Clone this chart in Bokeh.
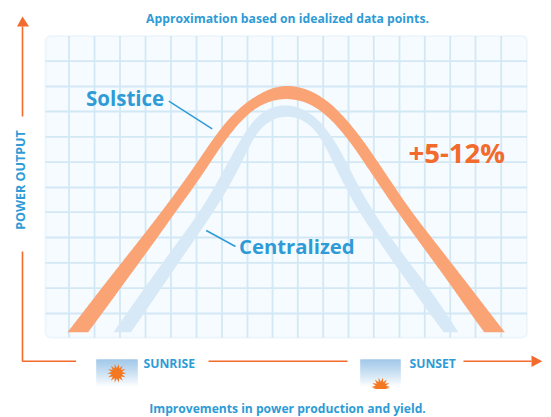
import numpy as np
from bokeh.plotting import figure
from bokeh.models import Range1d, BoxAnnotation
from bokeh.core.properties import value
from bokeh.embed import file_html
from bokeh.resources import INLINE

BLUE = "#2e9bd6"
ORANGE = "#f26a2c"
GRID = "#d3e8f5"

# Curves (x = image column, y = image row)
solstice_outer_x = [67, 81.6, 101, 121, 141, 162, 179, 197, 214, 235, 256, 270, 285, 300, 322.7, 339, 360, 377.5, 394.5, 410, 431, 450.7, 470.4, 489.8, 504.3]
solstice_outer_y = [331.7, 313, 287.7, 262.3, 237, 210, 187, 161.7, 136, 110, 94.5, 87, 83.5, 85.5, 96, 111, 136, 161.7, 187, 210, 237, 262.3, 287.7, 313, 331.7]
solstice_inner_x = [483.7, 470, 452.5, 434, 415.5, 396, 380.5, 363.5, 346, 321, 302, 285.7, 265, 250, 227, 210, 193, 176, 157, 138.5, 120, 101.5, 87.7]
solstice_inner_y = [331.7, 313, 287.7, 262.3, 237, 210, 187, 161.7, 136, 109, 99.5, 96.5, 101, 110, 136, 161.7, 187, 210, 237, 262.3, 287.7, 313, 331.7]
central_outer_x = [113, 126, 144, 162, 180.7, 200, 214, 227.5, 242, 251, 262, 273, 285, 297, 310, 320, 332, 346, 358.5, 372, 390, 409, 428.5, 446, 457.7]
central_outer_y = [331.7, 313, 287.7, 262.3, 237, 210, 187, 161.7, 136, 121.5, 110, 104.5, 103, 105, 111, 121.5, 136, 161.7, 187, 210, 237, 262.3, 287.7, 313, 331.7]
central_inner_x = [443.3, 429, 411.5, 393, 376, 357.5, 345, 332.5, 320, 309, 296, 285, 274, 262, 253.5, 241.5, 228, 214, 195.5, 178, 160.7, 143.4, 130.5]
central_inner_y = [331.7, 313, 287.7, 262.3, 237, 210, 187, 161.7, 136, 121.5, 115.5, 113.7, 116.5, 123.5, 136, 161.7, 187, 210, 237, 262.3, 287.7, 313, 331.7]

grid_x = [68.5, 94, 119.5, 145, 170.5, 196, 221.5, 247, 272, 297.3, 322.7, 348, 373.3, 399, 424.3, 449.7, 475, 500.7]
grid_y = [60.7, 86, 111, 136.3, 161.7, 187, 211.7, 237, 262.3, 287.7, 313]
panel = dict(left=45, right=526.5, top=35.5, bottom=337.3)


def smooth(xs, ys, win=41):
    """Draw a read-off edge as a soft curve: resample along its length, then average."""
    xs, ys = np.asarray(xs, float), np.asarray(ys, float)
    s = np.r_[0, np.cumsum(np.hypot(np.diff(xs), np.diff(ys)))]
    u = np.r_[np.arange(0, s[-1], 1.0), s[-1]]
    dx, dy = np.interp(u, s, xs), np.interp(u, s, ys)
    k = np.ones(win) / win
    h = win // 2
    px = np.r_[2 * dx[0] - dx[h:0:-1], dx, 2 * dx[-1] - dx[-2:-h - 2:-1]]
    py = np.r_[2 * dy[0] - dy[h:0:-1], dy, 2 * dy[-1] - dy[-2:-h - 2:-1]]
    return np.convolve(px, k, "valid"), np.convolve(py, k, "valid")


def band(ox, oy, ix, iy):
    ax, ay = smooth(ox, oy)
    bx, by = smooth(ix, iy)
    return np.r_[ax, bx], np.r_[ay, by]


p = figure(width=551, height=417, x_range=Range1d(0, 551), y_range=Range1d(417, 0),
           output_backend="svg", toolbar_location=None, min_border=0,
           outline_line_color=None, background_fill_color="white", border_fill_color="white")
p.xaxis.visible = False
p.yaxis.visible = False
p.xgrid.visible = False
p.ygrid.visible = False

box = BoxAnnotation(fill_color="#f5fbfe", fill_alpha=1, line_color=GRID, line_width=2,
                    border_radius=5, level="underlay", **panel)
p.add_layout(box)

p.segment(grid_x, panel["top"], grid_x, panel["bottom"], line_color=GRID, line_width=1.8)
p.segment(panel["left"], grid_y, panel["right"], grid_y, line_color=GRID, line_width=1.8)

cx, cy = band(central_outer_x, central_outer_y, central_inner_x, central_inner_y)
p.patch(cx, cy, fill_color="#d7e9f6", line_color=None)
ox, oy = band(solstice_outer_x, solstice_outer_y, solstice_inner_x, solstice_inner_y)
p.patch(ox, oy, fill_color="#faa475", line_color=None)

# pointer lines
p.line([168.3, 211.7], [100.7, 128.3], line_color=BLUE, line_width=1.5)
p.line([205.7, 235], [230, 246], line_color=BLUE, line_width=1.5)

# axes arrows
p.line([22, 22], [116, 26], line_color=ORANGE, line_width=1.6)
p.patch([16.5, 22, 28.5], [26, 16, 26], fill_color=ORANGE, line_color=None)
p.line([22, 22, 75.5], [251, 360.7, 360.7], line_color=ORANGE, line_width=1.6)
p.line([208, 347], [360.7, 360.7], line_color=ORANGE, line_width=1.6)
p.line([463, 531], [360.7, 360.7], line_color=ORANGE, line_width=1.6)
p.patch([531, 541.7, 531], [355, 360.7, 366.5], fill_color=ORANGE, line_color=None)

# gradient tiles
stops = np.arange(359, 387)
t = (stops - 359) / 27
cols = ["#%02x%02x%02x" % (int(150 + 105 * a), int(194 + 61 * a), int(232 + 23 * a)) for a in t ** 1.1]
for l, r in [(96, 137), (360, 400)]:
    p.quad(left=l, right=r, top=stops, bottom=stops + 1, fill_color=cols, line_color=cols, line_width=0.3)

# suns
def star(cx, cy, ro, ri, n):
    a = np.linspace(0, 2 * np.pi, 2 * n, endpoint=False)
    r = np.where(np.arange(2 * n) % 2 == 0, ro, ri)
    return cx + r * np.cos(a), cy + r * np.sin(a)

sx, sy = star(116.3, 372.7, 9.5, 5.2, 14)
p.patch(sx, sy, fill_color="#f47721", line_color=None)
hx, hy = star(380.3, 386.5, 9.5, 5.2, 14)
hy = np.minimum(hy, 388.5)
p.patch(hx, hy, fill_color="#f47721", line_color=None)

FONT = value("Open Sans")
def label(x, y, s, size, color=BLUE, align="left", angle=0.0):
    p.text([x], [y], text=[s], text_font=FONT, text_font_style="bold", text_font_size=f"{size}px",
           text_color=color, text_align=align, text_baseline="middle", angle=angle)

label(287, 17.5, "Approximation based on idealized data points.", 12.2, align="center")
label(85.5, 97, "Solstice", 20.5)
label(238.5, 245, "Centralized", 20.3)
label(408, 151.5, "+5-12%", 27.5, color=ORANGE)
label(20, 179.5, "POWER OUTPUT", 12.5, align="center", angle=np.pi / 2)
label(143, 363, "SUNRISE", 12.2)
label(409, 363, "SUNSET", 12.2)
label(287, 408.3, "Improvements in power production and yield.", 12.1, align="center")

open("out.html", "w").write(file_html(p, INLINE))
